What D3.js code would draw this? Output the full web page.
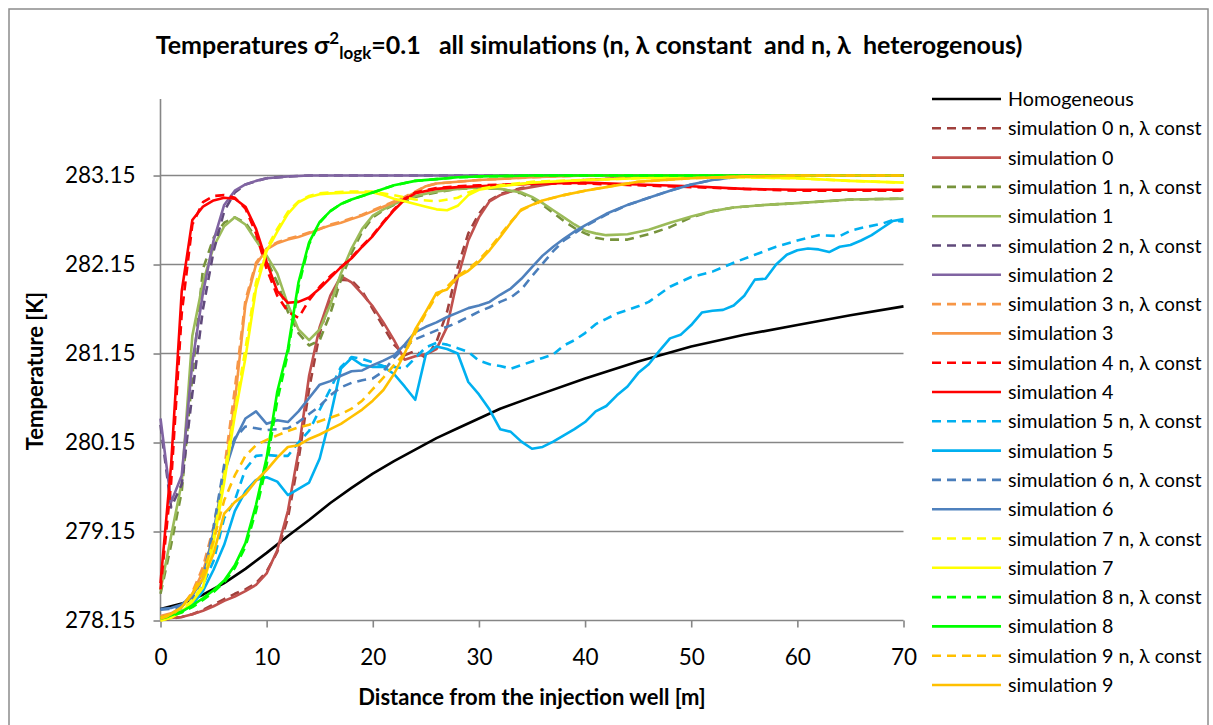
<!DOCTYPE html>
<html>
<head>
<meta charset="utf-8">
<script src="https://cdn.jsdelivr.net/npm/d3@7/dist/d3.min.js"></script>
<style>
  html, body { margin: 0; padding: 0; background: #fff; }
  svg { display: block; font-family: Lato, "Open Sans", sans-serif; }
</style>
</head>
<body>
<svg id="chart" width="1213" height="725"></svg>
<script>
// Distance [m] / temperature [K] profiles
const homogeneous = [[0,278.28],[2,278.34],[4,278.44],[6,278.57],[8,278.73],[10,278.91],[12,279.1],[14,279.28],[16,279.47],[18,279.64],[20,279.8],[22,279.94],[24,280.07],[26,280.2],[28,280.31],[30,280.42],[32,280.53],[35,280.66],[40,280.87],[45,281.06],[50,281.23],[55,281.36],[60,281.47],[65,281.58],[70,281.68]];

const sim0Const = [[0,278.16],[1,278.17],[2,278.19],[3,278.22],[4,278.27],[5,278.33],[6,278.39],[7,278.45],[8,278.5],[9,278.57],[10,278.7],[11,278.92],[12,279.3],[13,279.95],[14,280.75],[15,281.38],[16,281.76],[17,281.98],[18,281.97],[19,281.85],[20,281.65],[21,281.45],[22,281.25],[23,281.13],[24,281.18],[25,281.1],[26,281.28],[27,281.62],[28,282.12],[29,282.5],[30,282.72],[31,282.87],[32,282.94],[33,282.98],[34,283.01],[36,283.05],[38,283.08],[40,283.1],[45,283.13],[50,283.14],[60,283.15],[70,283.15]];
const sim0 = [[0,278.17],[1,278.18],[2,278.19],[3,278.22],[4,278.26],[5,278.31],[6,278.37],[7,278.42],[8,278.48],[9,278.55],[10,278.68],[11,278.94],[12,279.38],[13,280.05],[14,280.9],[15,281.45],[16,281.8],[17,282.02],[18,281.95],[19,281.82],[20,281.68],[21,281.5],[22,281.3],[23,281.08],[24,281.12],[25,281.14],[26,281.2],[27,281.45],[28,282.0],[29,282.42],[30,282.68],[31,282.86],[32,282.93],[33,282.97],[34,283.0],[36,283.04],[38,283.08],[40,283.1],[45,283.13],[50,283.14],[60,283.15],[70,283.15]];

const sim1Const = [[0,278.45],[1,279.0],[2,279.6],[3,280.9],[4,282.1],[5,282.45],[6,282.62],[7,282.68],[8,282.62],[9,282.45],[10,282.2],[11,281.95],[12,281.62],[13,281.38],[14,281.24],[15,281.3],[16,281.6],[17,281.98],[18,282.28],[19,282.52],[20,282.68],[21,282.76],[22,282.82],[24,282.91],[26,282.96],[28,283.0],[30,283.01],[32,283.0],[34,282.95],[35,282.89],[36,282.82],[37,282.73],[38,282.64],[39,282.56],[40,282.5],[41,282.45],[42,282.43],[44,282.43],[46,282.49],[48,282.57],[50,282.68],[52,282.75],[54,282.79],[57,282.82],[60,282.84],[65,282.88],[70,282.89]];
const sim1 = [[0,278.49],[1,279.1],[2,279.7],[3,281.35],[4,281.95],[5,282.35],[6,282.58],[7,282.68],[8,282.6],[9,282.42],[10,282.25],[11,282.05],[12,281.7],[13,281.42],[14,281.3],[15,281.42],[16,281.7],[17,282.05],[18,282.33],[19,282.55],[20,282.7],[21,282.77],[22,282.83],[24,282.92],[26,282.97],[28,283.0],[30,283.02],[32,283.0],[34,282.96],[35,282.91],[36,282.84],[37,282.76],[38,282.68],[39,282.6],[40,282.53],[41,282.5],[42,282.48],[44,282.49],[46,282.54],[48,282.62],[50,282.69],[52,282.75],[54,282.79],[57,282.82],[60,282.84],[65,282.88],[70,282.89]];

const sim2Const = [[0,280.35],[1,279.42],[2,279.68],[3,280.7],[4,281.65],[5,282.3],[6,282.75],[7,282.96],[8,283.05],[10,283.12],[12,283.14],[14,283.15],[70,283.15]];
const sim2 = [[0,280.42],[1,279.48],[2,279.78],[3,281.05],[4,281.83],[5,282.42],[6,282.82],[7,282.98],[8,283.05],[9,283.09],[10,283.12],[12,283.14],[14,283.15],[70,283.15]];

const sim3Const = [[0,278.19],[1,278.22],[2,278.3],[3,278.47],[4,278.75],[5,279.2],[6,279.85],[7,280.75],[8,281.75],[9,282.17],[10,282.33],[11,282.4],[12,282.44],[13,282.47],[14,282.51],[15,282.55],[16,282.6],[17,282.63],[18,282.67],[19,282.71],[20,282.76],[21,282.81],[22,282.86],[23,282.91],[24,282.97],[25,283.03],[26,283.06],[28,283.08],[30,283.1],[35,283.13],[40,283.15],[70,283.15]];
const sim3 = [[0,278.2],[1,278.23],[2,278.3],[3,278.45],[4,278.7],[5,279.1],[6,279.75],[7,280.6],[8,281.7],[9,282.15],[10,282.32],[11,282.39],[12,282.43],[13,282.46],[14,282.5],[15,282.55],[16,282.59],[17,282.62],[18,282.66],[19,282.7],[20,282.75],[21,282.8],[22,282.85],[23,282.9],[24,282.96],[25,283.03],[26,283.06],[28,283.08],[30,283.1],[35,283.13],[40,283.15],[70,283.15]];

const sim4Const = [[0,278.5],[1,279.7],[2,281.6],[3,282.6],[4,282.85],[5,282.92],[6,282.93],[7,282.9],[8,282.78],[9,282.5],[10,282.1],[11,281.8],[12,281.62],[13,281.55],[14,281.75],[15,281.9],[16,282.02],[17,282.12],[18,282.23],[19,282.36],[20,282.48],[21,282.63],[22,282.77],[23,282.89],[24,282.96],[26,283.01],[28,283.03],[30,283.04],[33,283.05],[36,283.06],[40,283.06],[45,283.04],[50,283.02],[55,283.0],[60,282.98],[65,282.98],[70,282.98]];
const sim4 = [[0,278.57],[1,279.9],[2,281.85],[3,282.65],[4,282.8],[5,282.87],[6,282.9],[7,282.89],[8,282.8],[9,282.55],[10,282.18],[11,281.85],[12,281.72],[13,281.73],[14,281.78],[15,281.88],[16,282.0],[17,282.12],[18,282.22],[19,282.35],[20,282.47],[21,282.62],[22,282.76],[23,282.88],[24,282.95],[26,283.0],[28,283.02],[30,283.03],[33,283.05],[36,283.06],[40,283.07],[45,283.05],[50,283.03],[55,283.0],[60,282.99],[65,282.99],[70,282.99]];

const sim5Const = [[0,278.18],[1,278.2],[2,278.26],[3,278.36],[4,278.55],[5,278.82],[6,279.3],[7,279.5],[8,279.85],[9,280.0],[10,280.01],[11,280.0],[12,280.0],[13,280.15],[14,280.28],[15,280.52],[16,280.75],[17,281.0],[18,281.11],[19,281.09],[20,281.05],[21,281.01],[22,281.0],[23,280.98],[24,281.1],[25,281.22],[26,281.27],[27,281.25],[28,281.21],[29,281.17],[30,281.07],[31,281.03],[32,281.01],[33,280.98],[34,281.02],[35,281.06],[36,281.1],[37,281.14],[38,281.24],[39,281.3],[40,281.38],[41,281.48],[42,281.54],[43,281.6],[44,281.64],[45,281.68],[46,281.73],[48,281.9],[50,282.01],[52,282.07],[54,282.17],[56,282.26],[58,282.35],[60,282.42],[62,282.48],[64,282.47],[65,282.53],[66,282.56],[68,282.61],[69,282.65],[70,282.63]];
const sim5 = [[0,278.18],[1,278.2],[2,278.25],[3,278.33],[4,278.48],[5,278.72],[6,279.0],[7,279.38],[8,279.6],[9,279.73],[10,279.76],[11,279.71],[12,279.56],[13,279.63],[14,279.7],[15,279.97],[16,280.44],[17,280.98],[18,281.1],[19,281.02],[20,281.0],[21,281.0],[22,280.92],[23,280.78],[24,280.63],[25,281.14],[26,281.23],[27,281.2],[28,281.15],[29,280.83],[30,280.69],[31,280.52],[32,280.3],[33,280.27],[34,280.16],[35,280.08],[36,280.1],[37,280.16],[38,280.23],[39,280.3],[40,280.38],[41,280.5],[42,280.56],[43,280.68],[44,280.78],[45,280.93],[46,281.03],[47,281.18],[48,281.32],[49,281.36],[50,281.47],[51,281.61],[52,281.63],[53,281.64],[54,281.69],[55,281.8],[56,281.98],[57,281.99],[58,282.15],[59,282.26],[60,282.31],[61,282.33],[62,282.32],[63,282.29],[64,282.35],[65,282.37],[66,282.42],[67,282.48],[68,282.56],[69,282.64],[70,282.66]];

const sim6Const = [[0,278.27],[1,278.28],[2,278.31],[3,278.4],[4,278.62],[5,279.2],[6,279.9],[7,280.2],[8,280.33],[9,280.31],[10,280.29],[11,280.3],[12,280.31],[13,280.38],[14,280.47],[15,280.56],[16,280.68],[17,280.77],[18,280.82],[19,280.85],[20,280.87],[21,280.95],[22,281.1],[23,281.22],[24,281.31],[25,281.36],[26,281.41],[27,281.45],[28,281.5],[29,281.56],[30,281.62],[31,281.67],[32,281.73],[33,281.78],[34,281.87],[35,282.02],[36,282.16],[37,282.3],[38,282.42],[39,282.5],[40,282.58],[42,282.71],[44,282.82],[46,282.9],[48,282.98],[50,283.05],[52,283.1],[54,283.13],[56,283.15],[70,283.15]];
const sim6 = [[0,278.28],[1,278.29],[2,278.33],[3,278.43],[4,278.62],[5,279.15],[6,279.8],[7,280.18],[8,280.42],[9,280.5],[10,280.36],[11,280.4],[12,280.38],[13,280.5],[14,280.65],[15,280.8],[16,280.84],[17,280.9],[18,280.95],[19,280.96],[20,281.02],[21,281.07],[22,281.13],[23,281.25],[24,281.39],[25,281.45],[26,281.5],[27,281.56],[28,281.61],[29,281.66],[30,281.69],[31,281.73],[32,281.81],[33,281.88],[34,281.99],[35,282.12],[36,282.25],[37,282.35],[38,282.44],[39,282.52],[40,282.59],[42,282.72],[44,282.82],[46,282.9],[48,282.98],[50,283.05],[52,283.1],[54,283.13],[56,283.15],[70,283.15]];

const sim7Const = [[0,278.15],[1,278.18],[2,278.26],[3,278.38],[4,278.55],[5,279.08],[6,279.78],[7,280.5],[8,281.2],[9,281.95],[10,282.33],[11,282.55],[12,282.74],[13,282.86],[14,282.92],[15,282.95],[16,282.96],[18,282.97],[20,282.97],[22,282.93],[24,282.88],[26,282.86],[28,282.9],[29,282.96],[30,283.0],[32,283.04],[35,283.08],[40,283.1],[45,283.12],[50,283.13],[55,283.13],[60,283.12],[65,283.09],[70,283.07]];
const sim7 = [[0,278.15],[1,278.18],[2,278.25],[3,278.36],[4,278.52],[5,279.02],[6,279.7],[7,280.45],[8,281.1],[9,281.88],[10,282.3],[11,282.52],[12,282.72],[13,282.85],[14,282.91],[15,282.94],[16,282.95],[18,282.96],[20,282.96],[21,282.93],[22,282.89],[23,282.86],[24,282.83],[25,282.8],[26,282.77],[27,282.76],[28,282.81],[29,282.93],[30,282.99],[32,283.03],[35,283.07],[40,283.1],[45,283.12],[50,283.13],[55,283.13],[60,283.12],[65,283.09],[70,283.07]];

const sim8Const = [[0,278.17],[1,278.2],[2,278.24],[3,278.3],[4,278.38],[5,278.47],[6,278.58],[7,278.74],[8,278.98],[9,279.38],[10,279.9],[11,280.62],[12,281.15],[13,281.9],[14,282.38],[15,282.62],[16,282.75],[17,282.83],[18,282.88],[20,282.96],[22,283.04],[24,283.09],[26,283.11],[28,283.13],[30,283.14],[35,283.15],[70,283.15]];
const sim8 = [[0,278.18],[1,278.21],[2,278.25],[3,278.32],[4,278.4],[5,278.49],[6,278.6],[7,278.77],[8,279.02],[9,279.45],[10,279.98],[11,280.72],[12,281.2],[13,281.95],[14,282.4],[15,282.63],[16,282.75],[17,282.83],[18,282.88],[20,282.96],[22,283.04],[24,283.09],[26,283.11],[28,283.13],[30,283.14],[35,283.15],[70,283.15]];

const sim9Const = [[0,278.17],[1,278.21],[2,278.3],[3,278.46],[4,278.68],[5,279.05],[6,279.5],[7,279.78],[8,280.0],[9,280.12],[10,280.18],[11,280.23],[12,280.28],[13,280.32],[14,280.35],[15,280.39],[16,280.43],[17,280.47],[18,280.53],[19,280.62],[20,280.75],[21,280.88],[22,281.02],[23,281.15],[24,281.38],[25,281.6],[26,281.8],[27,281.9],[28,282.02],[29,282.1],[30,282.2],[31,282.33],[32,282.48],[33,282.63],[34,282.76],[35,282.82],[36,282.87],[38,282.93],[40,282.98],[42,283.02],[45,283.08],[50,283.12],[55,283.14],[60,283.15],[70,283.15]];
const sim9 = [[0,278.18],[1,278.22],[2,278.3],[3,278.45],[4,278.62],[5,278.9],[6,279.35],[7,279.48],[8,279.57],[9,279.72],[10,279.84],[11,279.98],[12,280.1],[13,280.12],[14,280.19],[15,280.24],[16,280.3],[17,280.36],[18,280.44],[19,280.52],[20,280.62],[21,280.74],[22,280.92],[23,281.15],[24,281.42],[25,281.62],[26,281.83],[27,281.87],[28,282.01],[29,282.08],[30,282.18],[31,282.31],[32,282.46],[33,282.62],[34,282.77],[35,282.82],[36,282.87],[38,282.93],[40,282.98],[42,283.02],[45,283.08],[50,283.12],[55,283.14],[60,283.15],[70,283.15]];

const xTicks = [0, 10, 20, 30, 40, 50, 60, 70];
const yTicks = [278.15, 279.15, 280.15, 281.15, 282.15, 283.15];

// Series in drawing / legend order
const series = [
  { name: "Homogeneous",               data: homogeneous, color: "#000000", dashed: false },
  { name: "simulation 0 n, \u03bb const", data: sim0Const,   color: "#A0403C", dashed: true },
  { name: "simulation 0",              data: sim0,        color: "#C0504D", dashed: false },
  { name: "simulation 1 n, \u03bb const", data: sim1Const,   color: "#77933C", dashed: true },
  { name: "simulation 1",              data: sim1,        color: "#9BBB59", dashed: false },
  { name: "simulation 2 n, \u03bb const", data: sim2Const,   color: "#604A7B", dashed: true },
  { name: "simulation 2",              data: sim2,        color: "#8064A2", dashed: false },
  { name: "simulation 3 n, \u03bb const", data: sim3Const,   color: "#F79646", dashed: true },
  { name: "simulation 3",              data: sim3,        color: "#F79646", dashed: false },
  { name: "simulation 4 n, \u03bb const", data: sim4Const,   color: "#FF0000", dashed: true },
  { name: "simulation 4",              data: sim4,        color: "#FF0000", dashed: false },
  { name: "simulation 5 n, \u03bb const", data: sim5Const,   color: "#00B0F0", dashed: true },
  { name: "simulation 5",              data: sim5,        color: "#00B0F0", dashed: false },
  { name: "simulation 6 n, \u03bb const", data: sim6Const,   color: "#4A7EBB", dashed: true },
  { name: "simulation 6",              data: sim6,        color: "#4F81BD", dashed: false },
  { name: "simulation 7 n, \u03bb const", data: sim7Const,   color: "#FFFF00", dashed: true },
  { name: "simulation 7",              data: sim7,        color: "#FFFF00", dashed: false },
  { name: "simulation 8 n, \u03bb const", data: sim8Const,   color: "#00FF00", dashed: true },
  { name: "simulation 8",              data: sim8,        color: "#00FF00", dashed: false },
  { name: "simulation 9 n, \u03bb const", data: sim9Const,   color: "#FFC000", dashed: true },
  { name: "simulation 9",              data: sim9,        color: "#FFC000", dashed: false }
];

const svg = d3.select("#chart");
const W = 1213, H = 725;
const plot = { left: 160.5, right: 903.5, top: 99, bottom: 620.5 };
const AXIS = "#868686";
const LINE_W = 2.6;
const DASH = "9,6";

// chart-area frame
svg.append("rect").attr("x", 9).attr("y", 9).attr("width", W - 14).attr("height", H + 20)
  .attr("fill", "#fff").attr("stroke", "#8c8c8c").attr("stroke-width", 1.5);

const x = d3.scaleLinear().domain([0, 70]).range([plot.left, plot.right]);
const y = d3.scaleLinear().domain([278.15, 284.01]).range([plot.bottom, plot.top]);

// horizontal gridlines
svg.append("g").selectAll("line").data(yTicks.slice(1)).join("line")
  .attr("x1", plot.left).attr("x2", plot.right)
  .attr("y1", d => y(d)).attr("y2", d => y(d))
  .attr("stroke", AXIS).attr("stroke-width", 1.6);

// axes
const yAxis = d3.axisLeft(y).tickValues(yTicks).tickFormat(d3.format(".2f")).tickSize(7).tickPadding(18);
const gy = svg.append("g").attr("transform", `translate(${plot.left},0)`).call(yAxis);
const xAxis = d3.axisBottom(x).tickValues(xTicks).tickFormat(d3.format("d")).tickSize(7).tickPadding(22);
const gx = svg.append("g").attr("transform", `translate(0,${plot.bottom})`).call(xAxis);
[gx, gy].forEach(g => {
  g.select(".domain").attr("stroke", AXIS).attr("stroke-width", 1.6);
  g.selectAll(".tick line").attr("stroke", AXIS).attr("stroke-width", 1.6);
  g.selectAll(".tick text").attr("fill", "#000").style("font-size", "22.5px")
    .style("font-family", "Lato, sans-serif");
});
gy.select(".domain").attr("d", `M0,${plot.bottom}V${plot.top}`);
gx.select(".domain").attr("d", `M${plot.left},0H${plot.right}`);

// data lines
const line = d3.line().x(d => x(d[0])).y(d => y(d[1]));
svg.append("g").selectAll("path").data(series).join("path")
  .attr("d", s => line(s.data))
  .attr("fill", "none")
  .attr("stroke", s => s.color)
  .attr("stroke-width", LINE_W)
  .attr("stroke-linejoin", "round")
  .attr("stroke-dasharray", s => s.dashed ? DASH : null);

// title
const title = svg.append("text").attr("x", 589).attr("y", 54).attr("text-anchor", "middle")
  .attr("xml:space", "preserve").style("white-space", "pre")
  .style("font-size", "25px").style("font-weight", "bold");
title.append("tspan").text("Temperatures \u03c3");
title.append("tspan").attr("dy", -10).style("font-size", "17px").text("2");
title.append("tspan").attr("dy", 15).style("font-size", "17px").text("logk");
title.append("tspan").attr("dy", -5).text("=0.1   all simulations (n, \u03bb constant  and n, \u03bb  heterogenous)");

// axis titles
svg.append("text").attr("x", 532).attr("y", 705).attr("text-anchor", "middle")
  .style("font-size", "22px").style("font-weight", "bold")
  .text("Distance from the injection well [m]");
svg.append("text").attr("transform", "translate(43,371) rotate(-90)").attr("text-anchor", "middle")
  .style("font-size", "22px").style("font-weight", "bold")
  .text("Temperature [K]");

// legend
const legend = svg.append("g");
const rowH = 29.3;
const rows = legend.selectAll("g").data(series).join("g")
  .attr("transform", (d, i) => `translate(0,${99 + i * rowH})`);
rows.append("line").attr("x1", 932).attr("x2", 1001).attr("y1", 0).attr("y2", 0)
  .attr("stroke", d => d.color).attr("stroke-width", LINE_W)
  .attr("stroke-dasharray", d => d.dashed ? DASH : null);
rows.append("text").attr("x", 1008).attr("y", 7)
  .style("font-size", "19.7px").text(d => d.name);
</script>
</body>
</html>
